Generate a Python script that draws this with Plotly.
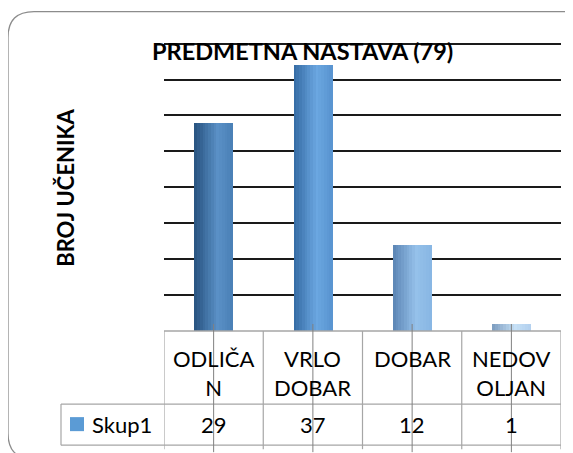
import plotly.graph_objects as go

# data
categories = ["ODLIČAN", "VRLO DOBAR", "DOBAR", "NEDOVOLJAN"]
header_labels = ["ODLIČA<br>N", "VRLO<br>DOBAR", "DOBAR", "NEDOV<br>OLJAN"]
values = [29, 37, 12, 1]
series_name = "Skup1"
title = "PREDMETNA NASTAVA (79)"
y_title = "BROJ UČENIKA"
y_max = 40
y_step = 5

W, H = 573, 453
OFF = 8  # page body margin, coordinates below are page pixels
PL, PR, PB = 164, 561, 331   # plot area in page px
TOP_LINE = 44                # page y of the y_max gridline
Y_TOP = y_max + 0.5          # a little headroom so the top gridline is drawn
PT = PB - (PB - TOP_LINE) * Y_TOP / y_max
FONT = "Lato"

def px(x):
    return (x - PL) / (PR - PL)

def py(y):
    return (PB - y) / (PB - PT)

# gradient stops per bar (left edge, middle, right edge)
stops = [
    ("#27527f", "#5a90c6", "#4a7fb5"),
    ("#346aa3", "#6ba7e1", "#5893cf"),
    ("#5a84b4", "#95c1ea", "#88b6e3"),
    ("#7c9cbf", "#c6e0f6", "#b2d0ee"),
]

def hex2rgb(h):
    return tuple(int(h[i:i + 2], 16) for i in (1, 3, 5))

def mix(a, b, t):
    a, b = hex2rgb(a), hex2rgb(b)
    return "rgb(%d,%d,%d)" % tuple(round(a[i] + (b[i] - a[i]) * t) for i in range(3))

def grad(s, t):
    if t < 0.6:
        return mix(s[0], s[1], t / 0.6)
    return mix(s[1], s[2], (t - 0.6) / 0.4)

xs = list(range(len(categories)))
bar_w = 0.39
n = 14
fig = go.Figure()
for k in range(n):
    t = (k + 0.5) / n
    fig.add_trace(go.Bar(
        x=xs, y=values, width=bar_w / n + 0.004,
        offset=-bar_w / 2 + k * bar_w / n,
        marker=dict(color=[grad(s, t) for s in stops], line=dict(width=0)),
        showlegend=False, hoverinfo="skip"))

shapes = []
grey = "#a6a6a6"
y_top, y_mid, y_bot = 331, 404, 445
for yy, xl in [(y_top, PL), (y_mid, 61), (y_bot, 61)]:
    shapes.append(dict(type="line", xref="paper", yref="paper",
                       x0=px(xl), x1=px(PR), y0=py(yy), y1=py(yy),
                       line=dict(color=grey, width=1.3)))
# legend cell left edge
shapes.append(dict(type="line", xref="paper", yref="paper",
                   x0=px(61), x1=px(61), y0=py(y_mid), y1=py(y_bot),
                   line=dict(color=grey, width=1.2)))
# column separators
for i in range(len(categories) + 1):
    shapes.append(dict(type="line", xref="x", yref="paper",
                       x0=i - 0.5, x1=i - 0.5, y0=py(y_top), y1=py(y_bot + 4),
                       line=dict(color=grey, width=1.2)))
# tick marks through table
for i in xs:
    shapes.append(dict(type="line", xref="x", yref="paper",
                       x0=i, x1=i, y0=py(324), y1=py(452),
                       line=dict(color="#808080", width=1)))
# legend key
shapes.append(dict(type="rect", xref="paper", yref="paper",
                   x0=px(70), x1=px(84), y0=py(417), y1=py(431),
                   fillcolor="#5b9bd5", line=dict(width=0)))
# rounded outer border
x0, y0, r = 8, 12, 26
x1, y1 = W + 20, H + 6
path = (f"M {px(x0)},{py(y0 + r)} "
        f"Q {px(x0)},{py(y0)} {px(x0 + r)},{py(y0)} "
        f"L {px(x1)},{py(y0)} "
        f"M {px(x0)},{py(y0 + r)} "
        f"L {px(x0)},{py(y1 - r)} "
        f"Q {px(x0)},{py(y1)} {px(x0 + r)},{py(y1)}")
shapes.append(dict(type="path", xref="paper", yref="paper", path=path,
                   line=dict(color="#8c8c8c", width=1.3)))

txt = dict(size=22, color="black", family=FONT)
annotations = []
for i, lab in enumerate(header_labels):
    annotations.append(dict(x=i, xref="x", y=py(343), yref="paper",
                            text=lab, showarrow=False,
                            xanchor="center", yanchor="top", font=txt))
    annotations.append(dict(x=i, xref="x", y=py(424), yref="paper",
                            text=str(values[i]), showarrow=False,
                            xanchor="center", yanchor="middle", font=txt))
annotations.append(dict(x=px(90), xref="paper", y=py(424), yref="paper",
                        text=series_name, showarrow=False,
                        xanchor="left", yanchor="middle", font=txt))
annotations.append(dict(x=px(66), xref="paper", y=py(188), yref="paper",
                        text="<b>" + y_title + "</b>", showarrow=False,
                        textangle=-90, xanchor="center", yanchor="middle",
                        font=txt))
annotations.append(dict(x=px(302), xref="paper", y=py(51), yref="paper",
                        text="<b>" + title + "</b>", showarrow=False,
                        xanchor="center", yanchor="middle",
                        font=dict(size=23.5, color="black", family=FONT)))

fig.update_layout(
    width=W, height=H,
    margin=dict(l=PL - OFF, r=W - (PR - OFF), t=PT - OFF, b=H - (PB - OFF)),
    paper_bgcolor="white", plot_bgcolor="white",
    barmode="overlay", bargap=0,
    xaxis=dict(range=[-0.5, len(categories) - 0.5], showticklabels=False,
               showgrid=False, zeroline=False, ticks=""),
    yaxis=dict(range=[0, Y_TOP], tickvals=list(range(y_step, y_max + 1, y_step)),
               showticklabels=False, showgrid=True, gridcolor="#1a1a1a",
               gridwidth=2, zeroline=False, ticks=""),
    shapes=shapes, annotations=annotations,
)

fig.write_html("out.html")
